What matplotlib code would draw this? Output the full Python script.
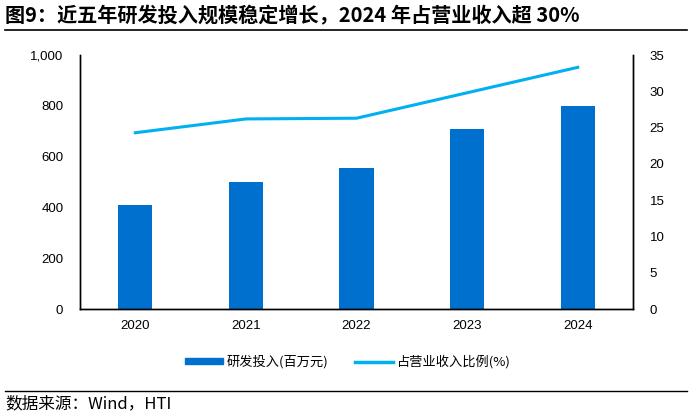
import matplotlib
matplotlib.use('Agg')
import matplotlib.pyplot as plt
from matplotlib.lines import Line2D
from matplotlib.patches import Patch

years = ['2020', '2021', '2022', '2023', '2024']
rd_spend = [410, 500, 556, 709, 799]          # 研发投入(百万元)
rd_ratio = [24.3, 26.2, 26.3, 29.8, 33.3]     # 占营业收入比例(%)

C_BAR, C_LINE = '#0070CE', '#00B0F0'
CJK = ['Noto Sans CJK SC', 'DejaVu Sans']
NUM = ['Liberation Sans', 'Noto Sans CJK SC']

fig = plt.figure(figsize=(6.92, 4.17), dpi=100)
ax = fig.add_axes([80 / 692, 1 - 309.3 / 417, 553 / 692, 254.3 / 417])
ax2 = ax.twinx()

x = range(len(years))
ax.bar(x, rd_spend, width=0.31, color=C_BAR, zorder=2)
ax2.plot(x, rd_ratio, color=C_LINE, lw=2.2, zorder=3)

ax.set_xlim(-0.5, len(years) - 0.5)
ax.set_ylim(0, 1000)
ax2.set_ylim(0, 35)
ax.set_xticks(list(x))
ax.set_xticklabels(years)
ax.set_yticks(range(0, 1001, 200))
ax.set_yticklabels([f"{v:,}" for v in range(0, 1001, 200)])
ax2.set_yticks(range(0, 36, 5))

for a in (ax, ax2):
    a.tick_params(length=0, labelsize=9.5, pad=12)
    for lab in a.get_xticklabels() + a.get_yticklabels():
        lab.set_family(NUM)
    a.spines['top'].set_visible(False)
    for s in ('left', 'right', 'bottom'):
        a.spines[s].set_color('black')
        a.spines[s].set_linewidth(1.0)
ax.tick_params(axis='x', pad=8)
ax.patch.set_visible(False)

# legend below the plot
handles = [Patch(color=C_BAR), Line2D([], [], color=C_LINE, lw=2.5)]
fig.legend(handles, ['研发投入(百万元)', '占营业收入比例(%)'],
           loc='center', bbox_to_anchor=(348 / 692, 1 - 362 / 417), ncol=2, frameon=False,
           prop={'family': CJK, 'size': 9.5}, handlelength=2.9, handleheight=0.4,
           columnspacing=2.0, handletextpad=0.3)

# title, rules and source
fig.text(5 / 692, 1 - 16 / 417, '图9：近五年研发投入规模稳定增长，2024 年占营业收入超 30%',
         family=CJK, fontsize=14.5, weight='bold', va='center', ha='left')
fig.add_artist(Line2D([5 / 692, 687 / 692], [1 - 30 / 417] * 2, color='black', lw=1.2))
fig.add_artist(Line2D([5 / 692, 687 / 692], [1 - 391 / 417] * 2, color='black', lw=1.0))
fig.text(5 / 692, 1 - 404 / 417, '数据来源：Wind，HTI', family=CJK, fontsize=12,
         va='center', ha='left')

fig.savefig('out.png', dpi=100, facecolor='white')
